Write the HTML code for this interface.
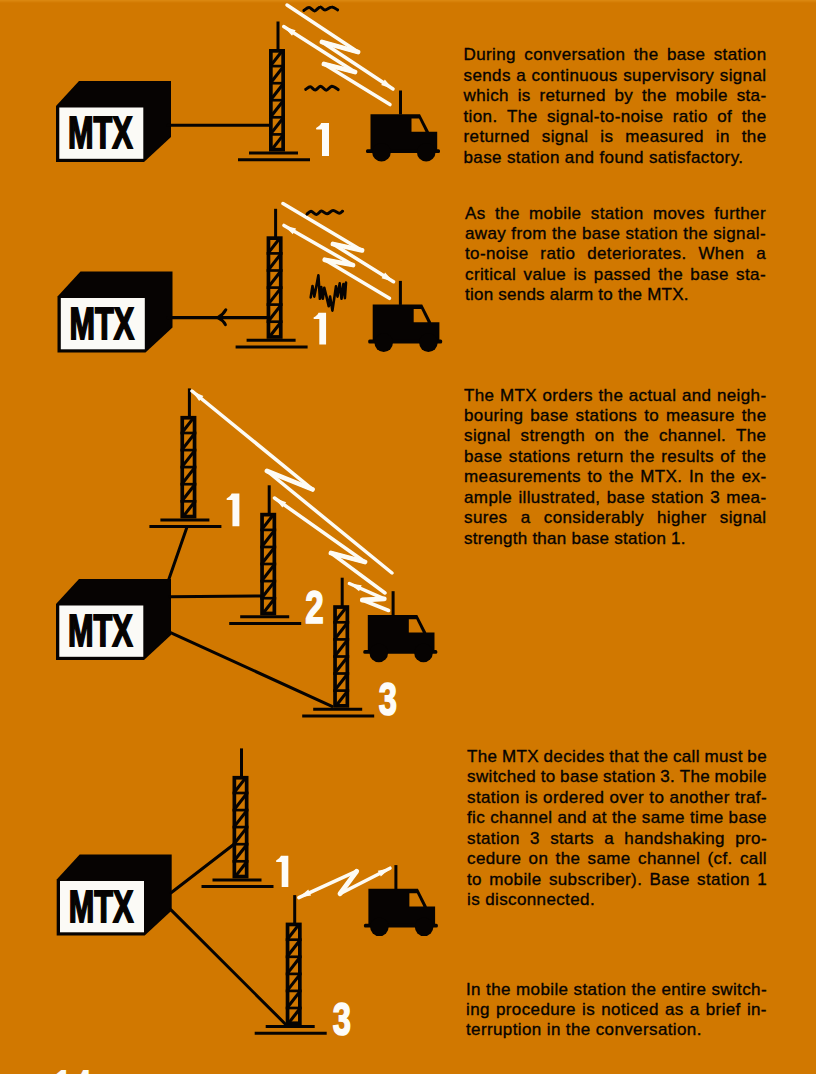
<!DOCTYPE html>
<html><head><meta charset="utf-8"><style>
html,body{margin:0;padding:0;}
body{width:816px;height:1074px;overflow:hidden;background:#D17800;position:relative;}
.top{position:absolute;left:0;top:0;width:816px;height:3px;background:linear-gradient(#dd8a12,#D17800);}
svg{position:absolute;left:0;top:0;}
.tb{position:absolute;font-family:"Liberation Sans",sans-serif;font-size:17px;line-height:20.45px;letter-spacing:0.38px;-webkit-text-stroke:0.35px #060302;color:#060302;}
.tb div{white-space:nowrap;}
.tb .j{display:flex;justify-content:space-between;}
</style></head><body>
<div class="top"></div>
<svg width="816" height="1074" viewBox="0 0 816 1074">
<path d="M56,106 L79,81 L171,81 L171,137 L144,162 L56,162 Z" fill="#060302"/><rect x="59.3" y="107.5" width="84" height="51.3" fill="#fbfaf6"/><text x="0" y="0" transform="translate(68,148) scale(0.70,1)" font-family="Liberation Sans" font-weight="bold" font-size="43.8" fill="#060302" stroke="#060302" stroke-width="1.8">MTX</text><line x1="168" y1="125.2" x2="269" y2="125.2" stroke="#060302" stroke-width="3" stroke-linecap="round"/><line x1="278" y1="21.5" x2="278" y2="50" stroke="#060302" stroke-width="3"/><rect x="270.85" y="50.85" width="12.3" height="98.8" fill="none" stroke="#060302" stroke-width="3.7"/><line x1="269" y1="66.1" x2="285" y2="66.1" stroke="#060302" stroke-width="2.7"/><line x1="269" y1="83.2" x2="285" y2="83.2" stroke="#060302" stroke-width="2.7"/><line x1="269" y1="100.2" x2="285" y2="100.2" stroke="#060302" stroke-width="2.7"/><line x1="269" y1="117.3" x2="285" y2="117.3" stroke="#060302" stroke-width="2.7"/><line x1="269" y1="134.4" x2="285" y2="134.4" stroke="#060302" stroke-width="2.7"/><line x1="271.5" y1="64.6" x2="282.5" y2="50.5" stroke="#060302" stroke-width="3.1"/><line x1="271.5" y1="81.7" x2="282.5" y2="67.6" stroke="#060302" stroke-width="3.1"/><line x1="271.5" y1="98.8" x2="282.5" y2="84.7" stroke="#060302" stroke-width="3.1"/><line x1="271.5" y1="115.8" x2="282.5" y2="101.8" stroke="#060302" stroke-width="3.1"/><line x1="271.5" y1="132.9" x2="282.5" y2="118.8" stroke="#060302" stroke-width="3.1"/><line x1="271.5" y1="150.0" x2="282.5" y2="135.9" stroke="#060302" stroke-width="3.1"/><line x1="249" y1="153" x2="298" y2="153" stroke="#060302" stroke-width="3"/><line x1="238" y1="159.7" x2="310" y2="159.7" stroke="#060302" stroke-width="3"/><path transform="translate(316,123) scale(1.000)" d="M5.2,0 H13 V33 H6 V6.6 H0.6 C0,6.4 -0.2,5.4 0.4,4.8 C2.6,3.6 4.4,2 5.2,0 Z" fill="#fdfcf8"/><path d="M287,5 L358,52 L322,42 L393,89" fill="none" stroke="#fdfbf4" stroke-width="3.5" stroke-linejoin="round" stroke-linecap="round"/><path d="M358,52 L322,42" fill="none" stroke="#fdfbf4" stroke-width="4.8" stroke-linecap="round"/><path d="M393.0,89.0 L381.2,85.1 L384.8,79.6 Z" fill="#fdfbf4"/><path d="M283.7,26.6 L355,72 L324,64 L390,104.6" fill="none" stroke="#fdfbf4" stroke-width="3.5" stroke-linejoin="round" stroke-linecap="round"/><path d="M355,72 L324,64" fill="none" stroke="#fdfbf4" stroke-width="4.8" stroke-linecap="round"/><path d="M283.7,26.6 L295.6,30.3 L292.0,35.8 Z" fill="#fdfbf4"/><path d="M303.9,10.4 C304.8,9.9 307.3,7.4 309.1,7.5 C310.9,7.6 312.8,11.0 314.6,10.9 C316.4,10.8 318.4,7.0 320.1,6.9 C321.9,6.7 323.1,10.1 325.0,10.1 C327.0,10.1 329.7,6.9 331.8,6.9 C333.9,6.8 336.6,9.4 337.6,9.9" fill="none" stroke="#060302" stroke-width="3" stroke-linecap="round" stroke-linejoin="round"/><path d="M305.7,89.4 C306.5,89.0 308.7,86.7 310.3,86.8 C311.9,86.9 313.5,90.1 315.2,90.0 C317.0,89.9 318.9,86.3 320.7,86.3 C322.6,86.4 324.4,90.3 326.2,90.3 C328.1,90.3 329.8,86.5 331.8,86.3 C333.8,86.2 337.1,89.0 338.2,89.6" fill="none" stroke="#060302" stroke-width="3" stroke-linecap="round" stroke-linejoin="round"/><g transform="translate(370.5,114.2)"><path d="M0,0 H49.5 L58.5,17.6 H66.7 V37 H0 Z" fill="#060302"/><rect x="-4.5" y="35" width="74" height="3.8" rx="1.5" fill="#060302"/><circle cx="11" cy="38" r="9.3" fill="#060302"/><circle cx="55.7" cy="38" r="9.3" fill="#060302"/><path d="M41,4.4 H48.5 L55,17.6 H41 Z" fill="#D17800"/><rect x="28.5" y="-23.7" width="3" height="24" fill="#060302"/></g><path d="M57.5,296.5 L80.5,271.5 L172.5,271.5 L172.5,327.5 L145.5,352.5 L57.5,352.5 Z" fill="#060302"/><rect x="60.8" y="298.0" width="84" height="51.3" fill="#fbfaf6"/><text x="0" y="0" transform="translate(69.5,338.5) scale(0.70,1)" font-family="Liberation Sans" font-weight="bold" font-size="43.8" fill="#060302" stroke="#060302" stroke-width="1.8">MTX</text><line x1="168" y1="317.6" x2="267" y2="317.6" stroke="#060302" stroke-width="3.3" stroke-linecap="round"/><path d="M225.8,309.8 Q223,315 217.8,317.6 Q223,320 225.4,324.6" fill="none" stroke="#060302" stroke-width="3" stroke-linecap="round" stroke-linejoin="round"/><path d="M218.5,317.6 Q222,314.5 223.5,313 L222.5,317.6 L223.5,322 Q222,320.5 218.5,317.6 Z" fill="#060302"/><line x1="275.6" y1="208.8" x2="275.6" y2="237.3" stroke="#060302" stroke-width="3"/><rect x="268.45000000000005" y="238.15" width="12.3" height="98.8" fill="none" stroke="#060302" stroke-width="3.7"/><line x1="266.6" y1="253.4" x2="282.6" y2="253.4" stroke="#060302" stroke-width="2.7"/><line x1="266.6" y1="270.5" x2="282.6" y2="270.5" stroke="#060302" stroke-width="2.7"/><line x1="266.6" y1="287.6" x2="282.6" y2="287.6" stroke="#060302" stroke-width="2.7"/><line x1="266.6" y1="304.6" x2="282.6" y2="304.6" stroke="#060302" stroke-width="2.7"/><line x1="266.6" y1="321.7" x2="282.6" y2="321.7" stroke="#060302" stroke-width="2.7"/><line x1="269.1" y1="251.9" x2="280.1" y2="237.8" stroke="#060302" stroke-width="3.1"/><line x1="269.1" y1="269.0" x2="280.1" y2="254.9" stroke="#060302" stroke-width="3.1"/><line x1="269.1" y1="286.1" x2="280.1" y2="272.0" stroke="#060302" stroke-width="3.1"/><line x1="269.1" y1="303.1" x2="280.1" y2="289.1" stroke="#060302" stroke-width="3.1"/><line x1="269.1" y1="320.2" x2="280.1" y2="306.1" stroke="#060302" stroke-width="3.1"/><line x1="269.1" y1="337.3" x2="280.1" y2="323.2" stroke="#060302" stroke-width="3.1"/><line x1="246.60000000000002" y1="340.3" x2="295.6" y2="340.3" stroke="#060302" stroke-width="3"/><line x1="235.60000000000002" y1="347.0" x2="307.6" y2="347.0" stroke="#060302" stroke-width="3"/><path transform="translate(313.5,312.7) scale(0.967)" d="M5.2,0 H13 V33 H6 V6.6 H0.6 C0,6.4 -0.2,5.4 0.4,4.8 C2.6,3.6 4.4,2 5.2,0 Z" fill="#fdfcf8"/><path d="M283,203.5 L362,250.4 L333,244 L393.5,281.7" fill="none" stroke="#fdfbf4" stroke-width="3.5" stroke-linejoin="round" stroke-linecap="round"/><path d="M362,250.4 L333,244" fill="none" stroke="#fdfbf4" stroke-width="4.8" stroke-linecap="round"/><path d="M393.5,281.7 L381.6,278.2 L385.1,272.6 Z" fill="#fdfbf4"/><path d="M284,225.4 L353,265 L324.8,259.8 L389.4,298.3" fill="none" stroke="#fdfbf4" stroke-width="3.5" stroke-linejoin="round" stroke-linecap="round"/><path d="M353,265 L324.8,259.8" fill="none" stroke="#fdfbf4" stroke-width="4.8" stroke-linecap="round"/><path d="M284.0,225.4 L296.1,228.5 L292.8,234.2 Z" fill="#fdfbf4"/><path d="M307.0,214.1 C307.7,213.6 309.4,211.3 311.0,211.3 C312.6,211.4 314.8,214.5 316.5,214.4 C318.3,214.3 319.7,211.1 321.4,211.0 C323.2,210.9 325.0,213.9 327.0,213.8 C328.9,213.7 331.0,210.6 333.1,210.5 C335.1,210.4 337.6,213.1 339.2,213.2 C340.8,213.3 342.0,211.5 342.6,211.2" fill="none" stroke="#060302" stroke-width="3" stroke-linecap="round" stroke-linejoin="round"/><path d="M310.7,297.4 L312.5,286.0 L314.3,296.6 L316.2,287.1 L318.4,275.3 L319.9,298.8 L321.3,287.1 L322.8,298.8 L324.3,287.8 L326.5,296.6 L328.7,306.2 L330.1,296.6 L332.4,310.6 L334.6,295.9 L336.0,286.3 L337.5,296.6 L339.7,283.4 L341.5,298.8 L343.4,284.1 L344.9,298.1 L346.0,282.6" fill="none" stroke="#060302" stroke-width="2.6" stroke-linejoin="round" stroke-linecap="round"/><g transform="translate(372.7,304.6)"><path d="M0,0 H49.5 L58.5,17.6 H66.7 V37 H0 Z" fill="#060302"/><rect x="-4.5" y="35" width="74" height="3.8" rx="1.5" fill="#060302"/><circle cx="11" cy="38" r="9.3" fill="#060302"/><circle cx="55.7" cy="38" r="9.3" fill="#060302"/><path d="M41,4.4 H48.5 L55,17.6 H41 Z" fill="#D17800"/><rect x="26.2" y="-23.7" width="3" height="24" fill="#060302"/></g><path d="M56,604 L79,579 L171,579 L171,635 L144,660 L56,660 Z" fill="#060302"/><rect x="59.3" y="605.5" width="84" height="51.3" fill="#fbfaf6"/><text x="0" y="0" transform="translate(68,646) scale(0.70,1)" font-family="Liberation Sans" font-weight="bold" font-size="43.8" fill="#060302" stroke="#060302" stroke-width="1.8">MTX</text><line x1="168.7" y1="579.7" x2="187" y2="527" stroke="#060302" stroke-width="3" stroke-linecap="round"/><line x1="170" y1="596.8" x2="261" y2="596" stroke="#060302" stroke-width="3" stroke-linecap="round"/><line x1="170" y1="632.4" x2="332" y2="706.4" stroke="#060302" stroke-width="3" stroke-linecap="round"/><line x1="189.4" y1="388.4" x2="189.4" y2="416.9" stroke="#060302" stroke-width="3"/><rect x="182.25" y="417.75" width="12.3" height="98.8" fill="none" stroke="#060302" stroke-width="3.7"/><line x1="180.4" y1="433.0" x2="196.4" y2="433.0" stroke="#060302" stroke-width="2.7"/><line x1="180.4" y1="450.1" x2="196.4" y2="450.1" stroke="#060302" stroke-width="2.7"/><line x1="180.4" y1="467.1" x2="196.4" y2="467.1" stroke="#060302" stroke-width="2.7"/><line x1="180.4" y1="484.2" x2="196.4" y2="484.2" stroke="#060302" stroke-width="2.7"/><line x1="180.4" y1="501.3" x2="196.4" y2="501.3" stroke="#060302" stroke-width="2.7"/><line x1="182.9" y1="431.5" x2="193.9" y2="417.4" stroke="#060302" stroke-width="3.1"/><line x1="182.9" y1="448.6" x2="193.9" y2="434.5" stroke="#060302" stroke-width="3.1"/><line x1="182.9" y1="465.6" x2="193.9" y2="451.6" stroke="#060302" stroke-width="3.1"/><line x1="182.9" y1="482.7" x2="193.9" y2="468.6" stroke="#060302" stroke-width="3.1"/><line x1="182.9" y1="499.8" x2="193.9" y2="485.7" stroke="#060302" stroke-width="3.1"/><line x1="182.9" y1="516.9" x2="193.9" y2="502.8" stroke="#060302" stroke-width="3.1"/><line x1="160.4" y1="519.9" x2="209.4" y2="519.9" stroke="#060302" stroke-width="3"/><line x1="149.4" y1="526.6" x2="221.4" y2="526.6" stroke="#060302" stroke-width="3"/><line x1="269.2" y1="485.29999999999995" x2="269.2" y2="513.8" stroke="#060302" stroke-width="3"/><rect x="262.05" y="514.65" width="12.3" height="98.8" fill="none" stroke="#060302" stroke-width="3.7"/><line x1="260.2" y1="529.9" x2="276.2" y2="529.9" stroke="#060302" stroke-width="2.7"/><line x1="260.2" y1="547.0" x2="276.2" y2="547.0" stroke="#060302" stroke-width="2.7"/><line x1="260.2" y1="564.0" x2="276.2" y2="564.0" stroke="#060302" stroke-width="2.7"/><line x1="260.2" y1="581.1" x2="276.2" y2="581.1" stroke="#060302" stroke-width="2.7"/><line x1="260.2" y1="598.2" x2="276.2" y2="598.2" stroke="#060302" stroke-width="2.7"/><line x1="262.7" y1="528.4" x2="273.7" y2="514.3" stroke="#060302" stroke-width="3.1"/><line x1="262.7" y1="545.5" x2="273.7" y2="531.4" stroke="#060302" stroke-width="3.1"/><line x1="262.7" y1="562.5" x2="273.7" y2="548.5" stroke="#060302" stroke-width="3.1"/><line x1="262.7" y1="579.6" x2="273.7" y2="565.5" stroke="#060302" stroke-width="3.1"/><line x1="262.7" y1="596.7" x2="273.7" y2="582.6" stroke="#060302" stroke-width="3.1"/><line x1="262.7" y1="613.8" x2="273.7" y2="599.7" stroke="#060302" stroke-width="3.1"/><line x1="240.2" y1="616.8" x2="289.2" y2="616.8" stroke="#060302" stroke-width="3"/><line x1="229.2" y1="623.5" x2="301.2" y2="623.5" stroke="#060302" stroke-width="3"/><line x1="342.2" y1="577.7" x2="342.2" y2="606.2" stroke="#060302" stroke-width="3"/><rect x="335.05" y="607.0500000000001" width="12.3" height="98.8" fill="none" stroke="#060302" stroke-width="3.7"/><line x1="333.2" y1="622.3" x2="349.2" y2="622.3" stroke="#060302" stroke-width="2.7"/><line x1="333.2" y1="639.4" x2="349.2" y2="639.4" stroke="#060302" stroke-width="2.7"/><line x1="333.2" y1="656.5" x2="349.2" y2="656.5" stroke="#060302" stroke-width="2.7"/><line x1="333.2" y1="673.5" x2="349.2" y2="673.5" stroke="#060302" stroke-width="2.7"/><line x1="333.2" y1="690.6" x2="349.2" y2="690.6" stroke="#060302" stroke-width="2.7"/><line x1="335.7" y1="620.8" x2="346.7" y2="606.7" stroke="#060302" stroke-width="3.1"/><line x1="335.7" y1="637.9" x2="346.7" y2="623.8" stroke="#060302" stroke-width="3.1"/><line x1="335.7" y1="655.0" x2="346.7" y2="640.9" stroke="#060302" stroke-width="3.1"/><line x1="335.7" y1="672.0" x2="346.7" y2="658.0" stroke="#060302" stroke-width="3.1"/><line x1="335.7" y1="689.1" x2="346.7" y2="675.0" stroke="#060302" stroke-width="3.1"/><line x1="335.7" y1="706.2" x2="346.7" y2="692.1" stroke="#060302" stroke-width="3.1"/><line x1="313.2" y1="709.2" x2="362.2" y2="709.2" stroke="#060302" stroke-width="3"/><line x1="302.2" y1="715.9000000000001" x2="374.2" y2="715.9000000000001" stroke="#060302" stroke-width="3"/><path transform="translate(226.5,493.5) scale(0.991)" d="M5.2,0 H13 V33 H6 V6.6 H0.6 C0,6.4 -0.2,5.4 0.4,4.8 C2.6,3.6 4.4,2 5.2,0 Z" fill="#fdfcf8"/><text transform="translate(305.3,623) scale(0.72,1)" font-family="Liberation Sans" font-weight="bold" font-size="46.1" fill="#fdfcf8" stroke="#fdfcf8" stroke-width="1.6">2</text><text transform="translate(378.8,715.3) scale(0.72,1)" font-family="Liberation Sans" font-weight="bold" font-size="45.5" fill="#fdfcf8" stroke="#fdfcf8" stroke-width="1.6">3</text><path d="M192,391 L312.5,489.4 L267,471 L392,573" fill="none" stroke="#fdfbf4" stroke-width="3.5" stroke-linejoin="round" stroke-linecap="round"/><path d="M312.5,489.4 L267,471" fill="none" stroke="#fdfbf4" stroke-width="4.8" stroke-linecap="round"/><path d="M192.0,391.0 L203.4,396.0 L199.2,401.1 Z" fill="#fdfbf4"/><path d="M274.5,498 L365,562 L331,553 L385,593" fill="none" stroke="#fdfbf4" stroke-width="3.5" stroke-linejoin="round" stroke-linecap="round"/><path d="M365,562 L331,553" fill="none" stroke="#fdfbf4" stroke-width="4.8" stroke-linecap="round"/><path d="M274.5,498.0 L286.2,502.2 L282.4,507.6 Z" fill="#fdfbf4"/><path d="M349.4,583.5 L384.3,598.8 L362.3,600 L388.6,610.5" fill="none" stroke="#fdfbf4" stroke-width="3.5" stroke-linejoin="round" stroke-linecap="round"/><path d="M384.3,598.8 L362.3,600" fill="none" stroke="#fdfbf4" stroke-width="4.8" stroke-linecap="round"/><path d="M349.4,583.5 L361.7,585.3 L359.1,591.3 Z" fill="#fdfbf4"/><g transform="translate(367.8,614.9)"><path d="M0,0 H49.5 L58.5,17.6 H66.7 V37 H0 Z" fill="#060302"/><rect x="-4.5" y="35" width="74" height="3.8" rx="1.5" fill="#060302"/><circle cx="11" cy="38" r="9.3" fill="#060302"/><circle cx="55.7" cy="38" r="9.3" fill="#060302"/><path d="M41,4.4 H48.5 L55,17.6 H41 Z" fill="#D17800"/><rect x="23.8" y="-23.7" width="3" height="24" fill="#060302"/></g><path d="M56.7,879.5 L79.7,854.5 L171.7,854.5 L171.7,910.5 L144.7,935.5 L56.7,935.5 Z" fill="#060302"/><rect x="60.0" y="881.0" width="84" height="51.3" fill="#fbfaf6"/><text x="0" y="0" transform="translate(68.7,921.5) scale(0.70,1)" font-family="Liberation Sans" font-weight="bold" font-size="43.8" fill="#060302" stroke="#060302" stroke-width="1.8">MTX</text><line x1="171.1" y1="892.7" x2="233" y2="845" stroke="#060302" stroke-width="3" stroke-linecap="round"/><line x1="171" y1="909.9" x2="286" y2="1024.7" stroke="#060302" stroke-width="3" stroke-linecap="round"/><line x1="241.5" y1="748.4" x2="241.5" y2="776.9" stroke="#060302" stroke-width="3"/><rect x="234.35" y="777.75" width="12.3" height="98.8" fill="none" stroke="#060302" stroke-width="3.7"/><line x1="232.5" y1="793.0" x2="248.5" y2="793.0" stroke="#060302" stroke-width="2.7"/><line x1="232.5" y1="810.1" x2="248.5" y2="810.1" stroke="#060302" stroke-width="2.7"/><line x1="232.5" y1="827.1" x2="248.5" y2="827.1" stroke="#060302" stroke-width="2.7"/><line x1="232.5" y1="844.2" x2="248.5" y2="844.2" stroke="#060302" stroke-width="2.7"/><line x1="232.5" y1="861.3" x2="248.5" y2="861.3" stroke="#060302" stroke-width="2.7"/><line x1="235.0" y1="791.5" x2="246.0" y2="777.4" stroke="#060302" stroke-width="3.1"/><line x1="235.0" y1="808.6" x2="246.0" y2="794.5" stroke="#060302" stroke-width="3.1"/><line x1="235.0" y1="825.6" x2="246.0" y2="811.6" stroke="#060302" stroke-width="3.1"/><line x1="235.0" y1="842.7" x2="246.0" y2="828.6" stroke="#060302" stroke-width="3.1"/><line x1="235.0" y1="859.8" x2="246.0" y2="845.7" stroke="#060302" stroke-width="3.1"/><line x1="235.0" y1="876.9" x2="246.0" y2="862.8" stroke="#060302" stroke-width="3.1"/><line x1="212.5" y1="879.9" x2="261.5" y2="879.9" stroke="#060302" stroke-width="3"/><line x1="201.5" y1="886.6" x2="273.5" y2="886.6" stroke="#060302" stroke-width="3"/><line x1="294.7" y1="895.1" x2="294.7" y2="923.6" stroke="#060302" stroke-width="3"/><rect x="287.55" y="924.45" width="12.3" height="98.8" fill="none" stroke="#060302" stroke-width="3.7"/><line x1="285.7" y1="939.7" x2="301.7" y2="939.7" stroke="#060302" stroke-width="2.7"/><line x1="285.7" y1="956.8" x2="301.7" y2="956.8" stroke="#060302" stroke-width="2.7"/><line x1="285.7" y1="973.9" x2="301.7" y2="973.9" stroke="#060302" stroke-width="2.7"/><line x1="285.7" y1="990.9" x2="301.7" y2="990.9" stroke="#060302" stroke-width="2.7"/><line x1="285.7" y1="1008.0" x2="301.7" y2="1008.0" stroke="#060302" stroke-width="2.7"/><line x1="288.2" y1="938.2" x2="299.2" y2="924.1" stroke="#060302" stroke-width="3.1"/><line x1="288.2" y1="955.3" x2="299.2" y2="941.2" stroke="#060302" stroke-width="3.1"/><line x1="288.2" y1="972.4" x2="299.2" y2="958.3" stroke="#060302" stroke-width="3.1"/><line x1="288.2" y1="989.4" x2="299.2" y2="975.4" stroke="#060302" stroke-width="3.1"/><line x1="288.2" y1="1006.5" x2="299.2" y2="992.4" stroke="#060302" stroke-width="3.1"/><line x1="288.2" y1="1023.6" x2="299.2" y2="1009.5" stroke="#060302" stroke-width="3.1"/><line x1="265.7" y1="1026.6" x2="314.7" y2="1026.6" stroke="#060302" stroke-width="3"/><line x1="254.7" y1="1033.3" x2="326.7" y2="1033.3" stroke="#060302" stroke-width="3"/><path transform="translate(276,855.7) scale(0.948)" d="M5.2,0 H13 V33 H6 V6.6 H0.6 C0,6.4 -0.2,5.4 0.4,4.8 C2.6,3.6 4.4,2 5.2,0 Z" fill="#fdfcf8"/><text transform="translate(332.7,1035) scale(0.72,1)" font-family="Liberation Sans" font-weight="bold" font-size="45.5" fill="#fdfcf8" stroke="#fdfcf8" stroke-width="1.6">3</text><path d="M298.8,897.6 L356.7,871.2 L340,893.7 L390,868.2" fill="none" stroke="#fdfbf4" stroke-width="3.5" stroke-linejoin="round" stroke-linecap="round"/><path d="M356.7,871.2 L340,893.7" fill="none" stroke="#fdfbf4" stroke-width="4.8" stroke-linecap="round"/><path d="M298.8,897.6 L308.3,889.6 L311.1,895.6 Z" fill="#fdfbf4"/><path d="M390.0,868.2 L380.8,876.6 L377.8,870.7 Z" fill="#fdfbf4"/><g transform="translate(368.4,888.8)"><path d="M0,0 H49.5 L58.5,17.6 H66.7 V37 H0 Z" fill="#060302"/><rect x="-4.5" y="35" width="74" height="3.8" rx="1.5" fill="#060302"/><circle cx="11" cy="38" r="9.3" fill="#060302"/><circle cx="55.7" cy="38" r="9.3" fill="#060302"/><path d="M41,4.4 H48.5 L55,17.6 H41 Z" fill="#D17800"/><rect x="26.0" y="-23.7" width="3" height="24" fill="#060302"/></g><text transform="translate(53,1101) scale(0.8,1)" font-family="Liberation Sans" font-weight="bold" font-size="44" fill="#fdfcf8">14</text>
</svg>
<div class="tb" style="left:463.5px;top:45.3px;width:303px"><div class="j"><span>During</span><span>conversation</span><span>the</span><span>base</span><span>station</span></div><div class="j"><span>sends</span><span>a</span><span>continuous</span><span>supervisory</span><span>signal</span></div><div class="j"><span>which</span><span>is</span><span>returned</span><span>by</span><span>the</span><span>mobile</span><span>sta-</span></div><div class="j"><span>tion.</span><span>The</span><span>signal-to-noise</span><span>ratio</span><span>of</span><span>the</span></div><div class="j"><span>returned</span><span>signal</span><span>is</span><span>measured</span><span>in</span><span>the</span></div><div class="l">base station and found satisfactory.</div></div><div class="tb" style="left:465px;top:203.5px;width:301px"><div class="j"><span>As</span><span>the</span><span>mobile</span><span>station</span><span>moves</span><span>further</span></div><div class="j"><span>away</span><span>from</span><span>the</span><span>base</span><span>station</span><span>the</span><span>signal-</span></div><div class="j"><span>to-noise</span><span>ratio</span><span>deteriorates.</span><span>When</span><span>a</span></div><div class="j"><span>critical</span><span>value</span><span>is</span><span>passed</span><span>the</span><span>base</span><span>sta-</span></div><div class="l" style="letter-spacing:0.23px">tion sends alarm to the MTX.</div></div><div class="tb" style="left:464px;top:385.5px;width:302.5px"><div class="j"><span>The</span><span>MTX</span><span>orders</span><span>the</span><span>actual</span><span>and</span><span>neigh-</span></div><div class="j"><span>bouring</span><span>base</span><span>stations</span><span>to</span><span>measure</span><span>the</span></div><div class="j"><span>signal</span><span>strength</span><span>on</span><span>the</span><span>channel.</span><span>The</span></div><div class="j"><span>base</span><span>stations</span><span>return</span><span>the</span><span>results</span><span>of</span><span>the</span></div><div class="j"><span>measurements</span><span>to</span><span>the</span><span>MTX.</span><span>In</span><span>the</span><span>ex-</span></div><div class="j"><span>ample</span><span>illustrated,</span><span>base</span><span>station</span><span>3</span><span>mea-</span></div><div class="j"><span>sures</span><span>a</span><span>considerably</span><span>higher</span><span>signal</span></div><div class="l" style="letter-spacing:0.25px">strength than base station 1.</div></div><div class="tb" style="left:467px;top:747px;width:300px"><div class="j"><span>The</span><span>MTX</span><span>decides</span><span>that</span><span>the</span><span>call</span><span>must</span><span>be</span></div><div class="j"><span>switched</span><span>to</span><span>base</span><span>station</span><span>3.</span><span>The</span><span>mobile</span></div><div class="j"><span>station</span><span>is</span><span>ordered</span><span>over</span><span>to</span><span>another</span><span>traf-</span></div><div class="j"><span>fic</span><span>channel</span><span>and</span><span>at</span><span>the</span><span>same</span><span>time</span><span>base</span></div><div class="j"><span>station</span><span>3</span><span>starts</span><span>a</span><span>handshaking</span><span>pro-</span></div><div class="j"><span>cedure</span><span>on</span><span>the</span><span>same</span><span>channel</span><span>(cf.</span><span>call</span></div><div class="j"><span>to</span><span>mobile</span><span>subscriber).</span><span>Base</span><span>station</span><span>1</span></div><div class="l">is disconnected.</div></div><div class="tb" style="left:466px;top:979.5px;width:301px"><div class="j"><span>In</span><span>the</span><span>mobile</span><span>station</span><span>the</span><span>entire</span><span>switch-</span></div><div class="j"><span>ing</span><span>procedure</span><span>is</span><span>noticed</span><span>as</span><span>a</span><span>brief</span><span>in-</span></div><div class="l">terruption in the conversation.</div></div>
</body></html>
